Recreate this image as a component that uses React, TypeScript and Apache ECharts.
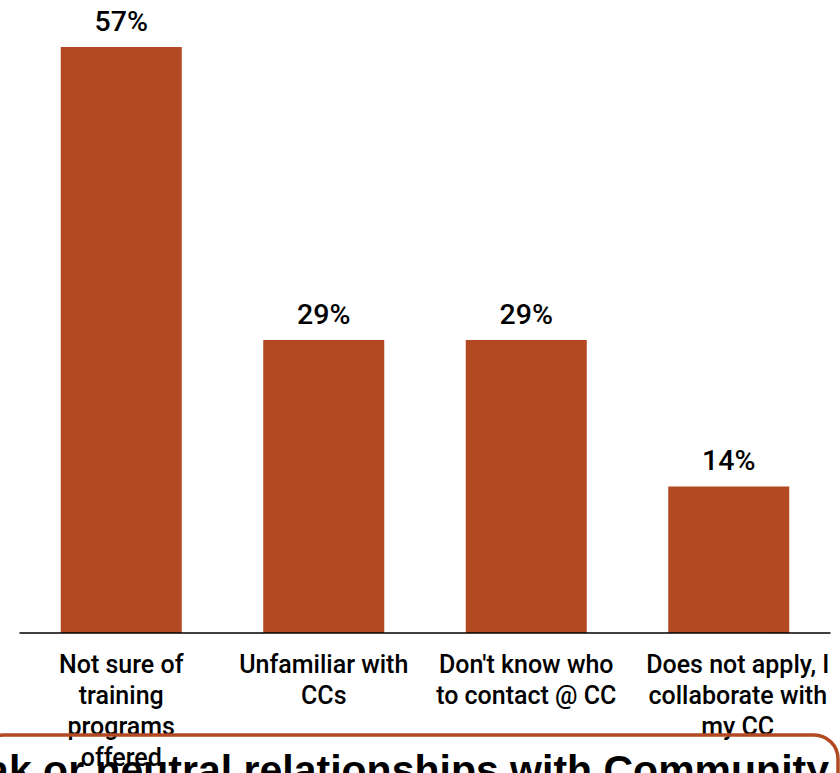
import React, { useEffect, useRef } from "react";
import * as echarts from "echarts";

const categories = [
  "Not sure of\ntraining\nprograms\noffered",
  "Unfamiliar with\nCCs",
  "Don't know who\nto contact @ CC",
  "Does not apply, I\ncollaborate with\nmy CC",
];
const values = [57.14, 28.57, 28.57, 14.29];
const valueLabels = ["57%", "29%", "29%", "14%"];
const bottomTitle = "Weak or neutral relationships with Community";

const BAR_COLOR = "#b34923";
const FONT = "Roboto";

export default function App() {
  const ref = useRef<HTMLDivElement>(null);
  useEffect(() => {
    if (!ref.current) return;
    const chart = echarts.init(ref.current, undefined, { renderer: "svg" });
    chart.setOption({
      animation: false,
      backgroundColor: "#ffffff",
      grid: { left: 20, width: 810, top: 47, height: 590, containLabel: false },
      xAxis: {
        type: "category",
        data: categories,
        z: 5,
        axisLine: { show: true, lineStyle: { color: "#000000", width: 1.5 } },
        axisTick: { show: false },
        axisLabel: {
          interval: 0,
          margin: 16,
          color: "#000000",
          fontFamily: FONT,
          fontWeight: 500,
          fontSize: 25,
          lineHeight: 31,
          formatter: (v: string, i: number) =>
            i === 3 ? "{s|" + v.split("\n").join("}\n{s|") + "}" : v,
          rich: {
            s: {
              color: "#000000",
              fontFamily: FONT,
              fontWeight: 500,
              fontSize: 25,
              lineHeight: 31,
              padding: [0, 0, 0, 18],
            },
          },
        },
      },
      yAxis: {
        type: "value",
        min: 0,
        max: (v: { max: number }) => v.max,
        show: false,
        splitLine: { show: false },
      },
      series: [
        {
          type: "bar",
          data: values,
          barWidth: 121,
          itemStyle: { color: BAR_COLOR },
          label: {
            show: true,
            position: "top",
            distance: 11,
            color: "#000000",
            fontFamily: FONT,
            fontWeight: 500,
            fontSize: 28.5,
            formatter: (p: { dataIndex: number }) => valueLabels[p.dataIndex],
          },
        },
      ],
      graphic: [
        {
          type: "rect",
          z: 10,
          shape: { x: -20, y: 735, width: 858, height: 120, r: 24 },
          style: { fill: "none", stroke: BAR_COLOR, lineWidth: 3.5 },
        },
        {
          type: "text",
          z: 11,
          x: 829,
          y: 749,
          style: {
            text: bottomTitle,
            fill: "#000000",
            font: "bold 41px 'Liberation Sans'",
            align: "right",
            verticalAlign: "top",
          },
        },
      ],
    });
    return () => chart.dispose();
  }, []);
  return (
    <div
      ref={ref}
      style={{ position: "fixed", left: 0, top: 0, width: 840, height: 773 }}
    />
  );
}
